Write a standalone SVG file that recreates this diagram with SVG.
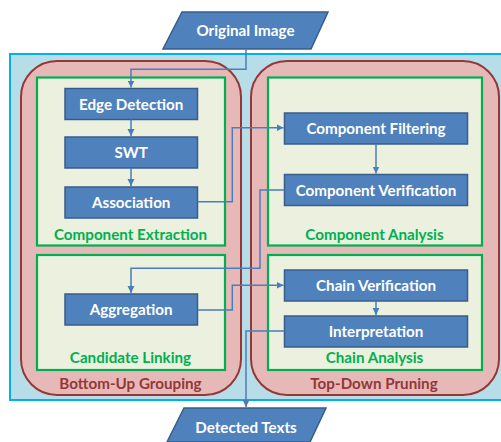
<svg xmlns="http://www.w3.org/2000/svg" width="501" height="442" viewBox="0 0 501 442">
<defs>
<marker id="arr" markerWidth="8" markerHeight="8" refX="7" refY="4" orient="auto" markerUnits="userSpaceOnUse">
<path d="M0,0.5 L7,4 L0,7.5 Z" fill="#4a7ebb"/>
</marker>
</defs>
<style>
.box{fill:#4f81bd;stroke:#385d8a;stroke-width:1.5}
.t{font-family:Lato,"Liberation Sans",sans-serif;font-weight:bold;font-size:15.2px;fill:#fff;text-anchor:middle}
.g{font-family:Lato,"Liberation Sans",sans-serif;font-weight:bold;font-size:15.2px;fill:#00b050;text-anchor:middle}
.r{font-family:Lato,"Liberation Sans",sans-serif;font-weight:bold;font-size:15.2px;fill:#953735;text-anchor:middle}
.red{fill:#e6b9b8;stroke:#953735;stroke-width:2}
.grn{fill:#ebf1de;stroke:#00b050;stroke-width:2.2}
.c{fill:none;stroke:#4a7ebb;stroke-width:1.5}
</style>
<rect id="outer" x="10" y="54" width="495" height="346" fill="#b7dee8" stroke="#00b0f0" stroke-width="2"/>
<g id="bottom-up">
<rect class="red" x="21" y="61" width="220" height="334" rx="36"/>
<text class="r" x="130.5" y="388.5">Bottom-Up Grouping</text>
</g>
<g id="top-down">
<rect class="red" x="251" y="61" width="248" height="334" rx="36"/>
<text class="r" x="374" y="388.5">Top-Down Pruning</text>
</g>
<g id="component-extraction">
<rect class="grn" x="37" y="77.5" width="188" height="168"/>
<text class="g" x="130.5" y="240">Component Extraction</text>
</g>
<g id="candidate-linking">
<rect class="grn" x="37" y="255" width="188" height="115"/>
<text class="g" x="130.5" y="362.5">Candidate Linking</text>
</g>
<g id="component-analysis">
<rect class="grn" x="268" y="77.5" width="214" height="168"/>
<text class="g" x="374.5" y="240">Component Analysis</text>
</g>
<g id="chain-analysis">
<rect class="grn" x="268" y="255" width="214" height="115"/>
<text class="g" x="374.5" y="362.5">Chain Analysis</text>
</g>
<g id="original-image">
<polygon class="box" points="182,12 328,12 311,49 163,49"/>
<text class="t" x="245.5" y="36">Original Image</text>
</g>
<g id="edge-detection">
<rect class="box" x="65" y="88.5" width="132.5" height="31"/>
<text class="t" x="131.2" y="109.5">Edge Detection</text>
</g>
<g id="swt">
<rect class="box" x="65" y="137" width="132.5" height="31"/>
<text class="t" x="131.2" y="158">SWT</text>
</g>
<g id="association">
<rect class="box" x="65" y="187" width="132.5" height="31"/>
<text class="t" x="131.2" y="208">Association</text>
</g>
<g id="aggregation">
<rect class="box" x="65" y="294" width="132.5" height="31"/>
<text class="t" x="131.2" y="315">Aggregation</text>
</g>
<g id="component-filtering">
<rect class="box" x="284.5" y="113" width="183" height="31"/>
<text class="t" x="376" y="134">Component Filtering</text>
</g>
<g id="component-verification">
<rect class="box" x="284.5" y="174.5" width="183" height="31"/>
<text class="t" x="376" y="195.5">Component Verification</text>
</g>
<g id="chain-verification">
<rect class="box" x="284.5" y="270" width="183" height="31"/>
<text class="t" x="376" y="291">Chain Verification</text>
</g>
<g id="interpretation">
<rect class="box" x="284.5" y="316" width="183" height="31"/>
<text class="t" x="376" y="337">Interpretation</text>
</g>
<g id="detected-texts">
<polygon class="box" points="184,408 326,408 310,442 167,442"/>
<text class="t" x="246" y="433">Detected Texts</text>
</g>
<g id="connectors">
<path class="c" d="M246,49 V69.3 H131 V87.5" marker-end="url(#arr)"/>
<path class="c" d="M131,119.5 V136" marker-end="url(#arr)"/>
<path class="c" d="M131,168 V186" marker-end="url(#arr)"/>
<path class="c" d="M197.5,201.7 H232.3 V127.7 H283.5" marker-end="url(#arr)"/>
<path class="c" d="M376,144 V173.5" marker-end="url(#arr)"/>
<path class="c" d="M284.5,190 H260 V268.3 H131 V293" marker-end="url(#arr)"/>
<path class="c" d="M197.5,310 H232.3 V285.3 H283.5" marker-end="url(#arr)"/>
<path class="c" d="M376,301 V315" marker-end="url(#arr)"/>
<path class="c" d="M284.5,331 H246 V407" marker-end="url(#arr)"/>
</g>
</svg>
